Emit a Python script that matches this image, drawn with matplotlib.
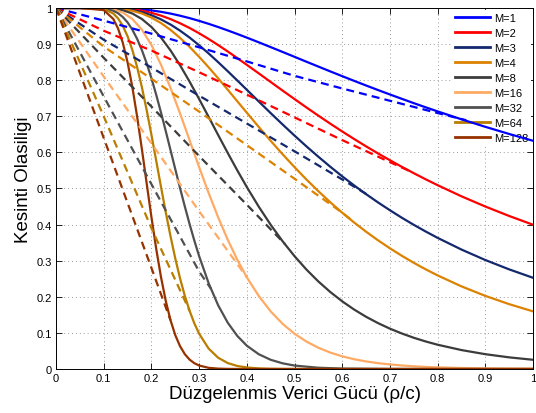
import matplotlib
matplotlib.use("Agg")
import matplotlib.pyplot as plt

plt.rcParams['font.family'] = ['Liberation Sans', 'DejaVu Sans']

# x grids for the exact (solid) curves
x_coarse = [0, 0.05, 0.1, 0.12, 0.14, 0.16, 0.18, 0.2, 0.22, 0.24, 0.26, 0.28, 0.3,
            0.32, 0.34, 0.36, 0.38, 0.4, 0.425, 0.45, 0.475, 0.5, 0.525, 0.55, 0.575,
            0.6, 0.625, 0.65, 0.675, 0.7, 0.725, 0.75, 0.775, 0.8, 0.85, 0.9, 0.95, 1.0]
x_fine = [0, 0.05, 0.1, 0.12, 0.13, 0.14, 0.15, 0.16, 0.17, 0.18, 0.19, 0.2, 0.21,
          0.22, 0.23, 0.24, 0.25, 0.26, 0.27, 0.28, 0.29, 0.3, 0.32, 0.34, 0.36,
          0.38, 0.4, 0.425, 0.45, 0.475, 0.5, 0.55, 0.6, 0.7, 0.8, 0.9, 1.0]

s1 = [1, 1, 1.0, 0.9998, 0.9992, 0.9981, 0.9961, 0.9933, 0.9894, 0.9845, 0.9786,
      0.9719, 0.9643, 0.9561, 0.9472, 0.9378, 0.9280, 0.9179, 0.9049, 0.8916, 0.8782,
      0.8647, 0.8511, 0.8377, 0.8243, 0.8111, 0.7981, 0.7853, 0.7727, 0.7604, 0.7483,
      0.7364, 0.7248, 0.7135, 0.6916, 0.6708, 0.6510, 0.6321]
s2 = [1, 1, 0.9999, 0.9995, 0.9984, 0.9961, 0.9923, 0.9866, 0.9789, 0.9692, 0.9577,
      0.9446, 0.9299, 0.9141, 0.8972, 0.8795, 0.8612, 0.8425, 0.8189, 0.7950, 0.7712,
      0.7477, 0.7244, 0.7017, 0.6795, 0.6579, 0.6370, 0.6167, 0.5971, 0.5782, 0.5599,
      0.5423, 0.5254, 0.5091, 0.4783, 0.4500, 0.4238, 0.3996]
s3 = [1, 1, 0.9999, 0.9993, 0.9976, 0.9942, 0.9884, 0.9800, 0.9685, 0.9542, 0.9372,
      0.9181, 0.8967, 0.8740, 0.8498, 0.8248, 0.7992, 0.7734, 0.7410, 0.7088, 0.6773,
      0.6465, 0.6166, 0.5879, 0.5602, 0.5336, 0.5084, 0.4843, 0.4614, 0.4397, 0.4189,
      0.3993, 0.3808, 0.3632, 0.3308, 0.3018, 0.2759, 0.2526]
s4 = [1, 1, 0.9998, 0.9990, 0.9968, 0.9922, 0.9847, 0.9734, 0.9583, 0.9394, 0.9171,
      0.8923, 0.8647, 0.8356, 0.8050, 0.7735, 0.7416, 0.7099, 0.6705, 0.6320, 0.5948,
      0.5591, 0.5248, 0.4924, 0.4618, 0.4328, 0.4057, 0.3803, 0.3565, 0.3343, 0.3135,
      0.2941, 0.2760, 0.2592, 0.2288, 0.2025, 0.1796, 0.1596]
s8 = [1, 1, 0.9996, 0.9981, 0.9937, 0.9847, 0.9695, 0.9474, 0.9182, 0.8825, 0.8414,
      0.7960, 0.7478, 0.6981, 0.6479, 0.5984, 0.5502, 0.5040, 0.4496, 0.3995, 0.3538,
      0.3125, 0.2754, 0.2424, 0.2132, 0.1874, 0.1646, 0.1446, 0.1271, 0.1117, 0.0983,
      0.0865, 0.0762, 0.0672, 0.0524, 0.0410, 0.0322, 0.0255]
s16 = [1, 1, 0.9993, 0.9962, 0.9874, 0.9696, 0.9399, 0.8975, 0.8430, 0.7788, 0.7079,
       0.6336, 0.5592, 0.4873, 0.4198, 0.3580, 0.3027, 0.2540, 0.2022, 0.1596, 0.1251,
       0.0976, 0.0759, 0.0588, 0.0455, 0.0351, 0.0271, 0.0209, 0.0162, 0.0125, 0.0097,
       0.0075, 0.0058, 0.0045, 0.0027, 0.0017, 0.0010, 0.0007]
s32 = [1, 1, 0.9985, 0.9924, 0.9855, 0.9750, 0.9601, 0.9400, 0.9145, 0.8834, 0.8469,
       0.8055, 0.7598, 0.7107, 0.6593, 0.6065, 0.5535, 0.5011, 0.4502, 0.4015,
       0.3555, 0.3127, 0.2374, 0.1762, 0.1282, 0.0916, 0.0645, 0.0409, 0.0255,
       0.0157, 0.0095, 0.0035, 0.0012, 0.0002, 0, 0, 0]
s64 = [1, 1, 0.9971, 0.9848, 0.9712, 0.9506, 0.9217, 0.8837, 0.8364, 0.7805, 0.7173,
       0.6488, 0.5772, 0.5051, 0.4347, 0.3679, 0.3063, 0.2511, 0.2027, 0.1612,
       0.1264, 0.0978, 0.0564, 0.0311, 0.0164, 0.0084, 0.0042, 0.0017, 0.0006,
       0.0002, 0.0001, 0, 0, 0, 0, 0, 0]
s128 = [1, 1, 0.9942, 0.9698, 0.9433, 0.9037, 0.8496, 0.7809, 0.6995, 0.6091, 0.5145,
        0.4209, 0.3332, 0.2551, 0.1889, 0.1353, 0.0938, 0.0631, 0.0411, 0.0260,
        0.0160, 0.0096, 0.0032, 0.0010, 0.0003, 0.0001, 0, 0, 0, 0, 0, 0, 0, 0, 0, 0, 0]

# approximation (dashed) curves
d1x = [0, 0.1, 0.2, 0.3, 0.4, 0.5, 0.6, 0.7, 0.8, 0.86]
d1y = [1, 0.965, 0.929, 0.891, 0.852, 0.812, 0.777, 0.743, 0.709, 0.689]
d2x = [0, 0.1, 0.2, 0.3, 0.4, 0.5, 0.6, 0.7, 0.74]
d2y = [1, 0.937, 0.882, 0.822, 0.760, 0.697, 0.634, 0.573, 0.549]
d3x = [0, 0.1, 0.2, 0.3, 0.4, 0.5, 0.6, 0.66]
d3y = [1, 0.912, 0.835, 0.757, 0.680, 0.603, 0.525, 0.477]
d4x = [0, 0.1, 0.2, 0.3, 0.4, 0.5, 0.6, 0.62]
d4y = [1, 0.893, 0.804, 0.713, 0.620, 0.527, 0.433, 0.412]
d8x = [0, 0.1, 0.2, 0.3, 0.4, 0.48]
d8y = [1, 0.862, 0.727, 0.590, 0.455, 0.346]
d16x = [0, 0.1, 0.2, 0.3, 0.4]
d16y = [1, 0.81, 0.625, 0.437, 0.254]
d32x = [0, 0.1, 0.2, 0.3, 0.325]
d32y = [1, 0.755, 0.512, 0.27, 0.222]
d64x = [0, 0.1, 0.2, 0.28]
d64y = [1, 0.70, 0.39, 0.161]
d128x = [0, 0.1, 0.2, 0.24]
d128y = [1, 0.64, 0.28, 0.135]

labels = ['M=1', 'M=2', 'M=3', 'M=4', 'M=8', 'M=16', 'M=32', 'M=64', 'M=128']
colors = ['#0000ff', '#ff0000', '#14286e', '#dc8200', '#3c3c3c', '#ffaa64',
          '#505050', '#b97d00', '#963200']

solid = [(x_coarse, s1), (x_coarse, s2), (x_coarse, s3), (x_coarse, s4),
         (x_coarse, s8), (x_coarse, s16), (x_fine, s32), (x_fine, s64), (x_fine, s128)]
dashed = [(d1x, d1y), (d2x, d2y), (d3x, d3y), (d4x, d4y), (d8x, d8y),
          (d16x, d16y), (d32x, d32y), (d64x, d64y), (d128x, d128y)]

fig = plt.figure(figsize=(5.36, 4.14), dpi=100)
ax = fig.add_axes([0.1045, 0.1063, 0.89, 0.872])
ax.set_axisbelow(True)

for (x, y), c, lab in zip(solid, colors, labels):
    ax.plot(x, y, color=c, lw=1.6, label=lab, zorder=3)
for (x, y), c in zip(dashed, colors):
    ax.plot(x, y, color=c, lw=1.6, dashes=(3.6, 2.3), zorder=3)

ax.set_xlim(0, 1)
ax.set_ylim(0, 1)
ticks = [0, 0.1, 0.2, 0.3, 0.4, 0.5, 0.6, 0.7, 0.8, 0.9, 1]
tick_labels = ['0', '0.1', '0.2', '0.3', '0.4', '0.5', '0.6', '0.7', '0.8', '0.9', '1']
ax.set_xticks(ticks)
ax.set_xticklabels(tick_labels)
ax.set_yticks(ticks)
ax.set_yticklabels(tick_labels)
ax.tick_params(direction='in', length=4, width=0.6, labelsize=8, top=True, right=True, pad=3)
ax.grid(True, color='0.6', linestyle=(0, (1, 3)), linewidth=0.7)
for sp in ax.spines.values():
    sp.set_linewidth(0.7)
    sp.set_zorder(4)

ax.set_xlabel('Düzgelenmis Verici Gücü (ρ/c)', fontsize=13.5, labelpad=1)
ax.set_ylabel('Kesinti Olasiligi', fontsize=13.5)
ax.yaxis.set_label_coords(-0.05, 0.526)

leg = ax.legend(loc='upper right', fontsize=8, frameon=True, handlelength=3.2,
                handletextpad=0.3, labelspacing=0.45, borderaxespad=0.15,
                borderpad=0.3)
leg.set_zorder(2)
for h in leg.get_lines():
    h.set_linewidth(2.0)
leg.get_frame().set_edgecolor('white')
leg.get_frame().set_linewidth(0)
leg.get_frame().set_alpha(1)
leg.get_frame().set_boxstyle('square', pad=0)

fig.savefig('out.png', dpi=100)
